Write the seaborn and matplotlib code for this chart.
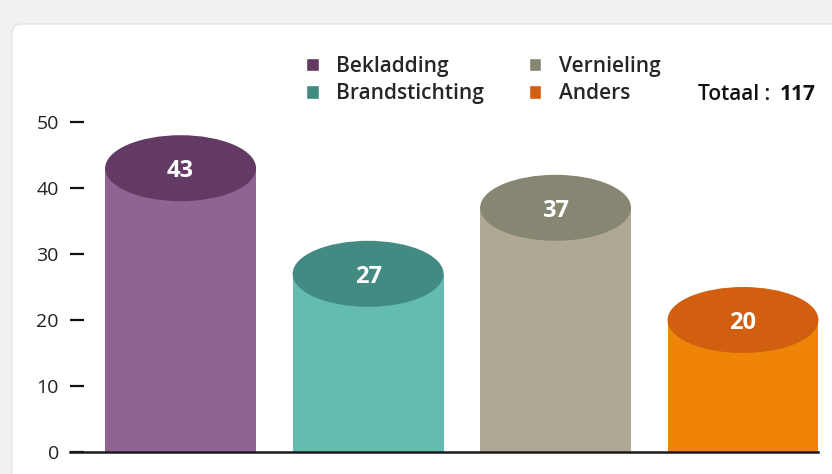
import matplotlib as mpl
mpl.use('Agg')
import matplotlib.pyplot as plt
from matplotlib.patches import Ellipse, Patch, FancyBboxPatch
from matplotlib.transforms import IdentityTransform
import seaborn as sns

#>> Data
categories = ['Bekladding', 'Brandstichting', 'Vernieling', 'Anders']
values = [43, 27, 37, 20]
body_colors = ['#8e6590', '#63bcae', '#aea894', '#ef8409']
top_colors = ['#633a64', '#428b82', '#878672', '#d25f10']
yticks = [0, 10, 20, 30, 40, 50]
total_text = 'Totaal :'
total_value = '117'

sns.set_theme(style='white')
plt.rcParams['font.family'] = ['Open Sans', 'DejaVu Sans']

W, H = 832, 474
fig = plt.figure(figsize=(W / 100, H / 100), dpi=100, facecolor='#f1f1f1')

# white card behind the chart
card = FancyBboxPatch((12, -30), 900, H - 24 + 30, boxstyle='round,pad=0,rounding_size=10',
                      transform=IdentityTransform(), facecolor='white', edgecolor='#e4e4e4',
                      lw=1, zorder=-10)
fig.patches.append(card)

ax = fig.add_axes([70 / W, 1 - 452 / H, (818 - 70) / W, (452 - 122) / H])
ax.patch.set_visible(False)

#>> Cylinder bodies
sns.barplot(x=categories, y=values, hue=categories, palette=body_colors, saturation=1,
            width=0.805, legend=False, linewidth=0, ax=ax)

#>> Cylinder tops + value labels
for bar, val, c in zip(ax.patches, values, top_colors):
    cx = bar.get_x() + bar.get_width() / 2
    ax.add_patch(Ellipse((cx, val), bar.get_width(), 10, facecolor=c, lw=0, clip_on=False, zorder=3))
    ax.text(cx, val, str(val), ha='center', va='center_baseline', color='white',
            fontsize=17, fontweight='bold', zorder=4)

ax.set_xlim(-0.59, 3.40)
ax.set_ylim(0, 50)
ax.set_yticks(yticks)
ax.set_xticks([])
ax.set_xlabel('')
ax.set_ylabel('')
ax.tick_params(axis='y', left=True, direction='in', length=10, width=1.6, color='#111111',
               pad=8, labelsize=14, labelcolor='#222222')
sns.despine(ax=ax, left=True)
ax.spines['bottom'].set_color('#1a1a1a')
ax.spines['bottom'].set_linewidth(1.8)

#>> Legend
handles = [Patch(facecolor=c, label=l) for c, l in zip(top_colors, categories)]
fig.legend(handles=handles, loc='upper left', bbox_to_anchor=(306 / W, 1 - 56 / H), ncol=2,
           frameon=False, prop={'size': 15, 'weight': 'semibold'}, handlelength=0.6,
           handleheight=0.6, handletextpad=0.85, columnspacing=2.15, labelspacing=0.3,
           borderpad=0, borderaxespad=0)

fig.text(770 / W, 1 - 94 / H, total_text, ha='right', va='center', fontsize=15,
         fontweight='semibold', color='#111111')
fig.text(816 / W, 1 - 94 / H, total_value, ha='right', va='center', fontsize=15,
         fontweight='bold', color='#111111')

fig.savefig('out.png', dpi=100, facecolor=fig.get_facecolor())
